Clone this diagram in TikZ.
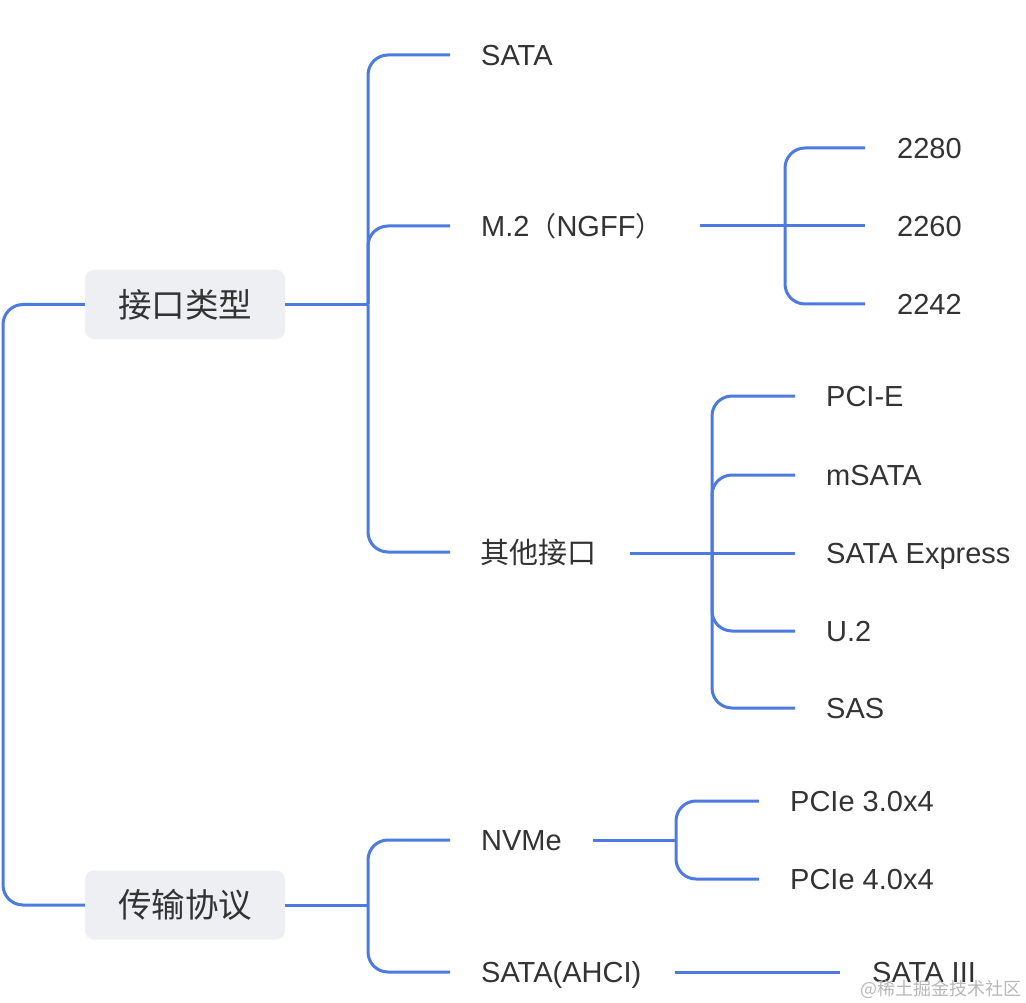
\documentclass[tikz,border=0pt]{standalone}
\usepackage{fontspec}
\setmainfont{Liberation Sans}
\newfontfamily\cjk{Noto Sans CJK SC}
\definecolor{ln}{RGB}{76,122,224}
\definecolor{tx}{RGB}{51,51,51}
\definecolor{bx}{RGB}{237,239,242}
\begin{document}
\begin{tikzpicture}[x=1pt,y=-1pt,
  conn/.style={draw=ln,line width=3pt,rounded corners=20pt},
  topic/.style={fill=bx,rounded corners=9pt,minimum width=200pt,minimum height=69pt,font=\cjk\fontsize{33.5}{33.5}\selectfont,text=tx,inner sep=0pt},
  leaf/.style={anchor=base west,inner sep=0pt,text=tx,font=\fontsize{29}{29}\selectfont},
  cleaf/.style={anchor=base west,inner sep=0pt,text=tx,font=\cjk\fontsize{29}{29}\selectfont}]
\useasboundingbox[fill=white] (0,0) rectangle (1026,1003);

% topics
\node[topic] (jk) at (185,304.5) {接口类型};
\node[topic] (cs) at (185,905) {传输协议};

% root line
\coordinate (r1) at (3,304.5);
\coordinate (r2) at (3,905);
\draw[conn] (jk.west) -- (r1) -- (r2) -- (cs.west);

% ---------- 接口类型 ----------
\coordinate (j1) at (368,304.5);
\draw[conn] (jk.east) -- (j1);
\coordinate (c-sata) at (450,55);
\coordinate (c-m2) at (450,226);
\coordinate (c-oth) at (450,552);
\node[leaf] (sata) at ([xshift=31pt,yshift=-10.4pt]c-sata) {SATA};
\node[leaf] (m2) at ([xshift=31pt,yshift=-10.4pt]c-m2) {M.2{\cjk\fontsize{27}{27}\selectfont （}NGFF{\cjk\fontsize{27}{27}\selectfont ）}};
\node[cleaf] (oth) at ([xshift=30pt,yshift=-11pt]c-oth) {其他接口};
\draw[conn] (j1) |- (c-sata);
\draw[conn] (j1) |- (c-m2);
\draw[conn] (j1) |- (c-oth);

% M.2 children
\coordinate (m2o) at (700,226);
\coordinate (j2) at (785,226);
\coordinate (c-2280) at (865,148);
\coordinate (c-2260) at (865,226);
\coordinate (c-2242) at (865,304);
\node[leaf] (n2280) at ([xshift=32pt,yshift=-10.4pt]c-2280) {2280};
\node[leaf] (n2260) at ([xshift=32pt,yshift=-10.4pt]c-2260) {2260};
\node[leaf] (n2242) at ([xshift=32pt,yshift=-10.4pt]c-2242) {2242};
\draw[conn] (m2o) -- (c-2260);
\draw[conn] (j2) |- (c-2280);
\draw[conn] (j2) |- (c-2242);

% other children
\coordinate (otho) at (630,553);
\coordinate (j3) at (712,553);
\coordinate (c-pcie) at (795,396);
\coordinate (c-msata) at (795,475);
\coordinate (c-sexp) at (795,553);
\coordinate (c-u2) at (795,631);
\coordinate (c-sas) at (795,708);
\node[leaf] (pcie) at ([xshift=31pt,yshift=-10.4pt]c-pcie) {PCI-E};
\node[leaf] (msata) at ([xshift=31pt,yshift=-10.4pt]c-msata) {mSATA};
\node[leaf] (sexp) at ([xshift=31pt,yshift=-10.4pt]c-sexp) {SATA Express};
\node[leaf] (u2) at ([xshift=31pt,yshift=-10.4pt]c-u2) {U.2};
\node[leaf] (sas) at ([xshift=31pt,yshift=-10.4pt]c-sas) {SAS};
\draw[conn] (otho) -- (c-sexp);
\draw[conn] (j3) |- (c-pcie);
\draw[conn] (j3) |- (c-msata);
\draw[conn] (j3) |- (c-u2);
\draw[conn] (j3) |- (c-sas);

% ---------- 传输协议 ----------
\coordinate (j4) at (368,905);
\draw[conn] (cs.east) -- (j4);
\coordinate (c-nvme) at (450,840);
\coordinate (c-ahci) at (450,972);
\node[leaf] (nvme) at ([xshift=31pt,yshift=-10.4pt]c-nvme) {NVMe};
\node[leaf] (ahci) at ([xshift=31pt,yshift=-10.4pt]c-ahci) {SATA(AHCI)};
\draw[conn] (j4) |- (c-nvme);
\draw[conn] (j4) |- (c-ahci);

% NVMe children
\coordinate (nvmeo) at (593,840);
\coordinate (j5) at (676,840);
\coordinate (c-p3) at (759,801);
\coordinate (c-p4) at (759,879);
\node[leaf] (p3) at ([xshift=31pt,yshift=-10.4pt]c-p3) {PCIe 3.0x4};
\node[leaf] (p4) at ([xshift=31pt,yshift=-10.4pt]c-p4) {PCIe 4.0x4};
\draw[conn] (nvmeo) -- (j5);
\draw[conn] (j5) |- (c-p3);
\draw[conn] (j5) |- (c-p4);

% SATA(AHCI) child
\coordinate (ahcio) at (675,972);
\coordinate (c-s3) at (840,972);
\node[leaf] (s3) at ([xshift=32pt,yshift=-10.4pt]c-s3) {SATA III};
\draw[conn] (ahcio) -- (c-s3);

% watermark
\node[anchor=base west,inner sep=0pt,text=black!28,font=\cjk\fontsize{18}{18}\selectfont] (wm) at (860,995) {@稀土掘金技术社区};
\end{tikzpicture}
\end{document}
